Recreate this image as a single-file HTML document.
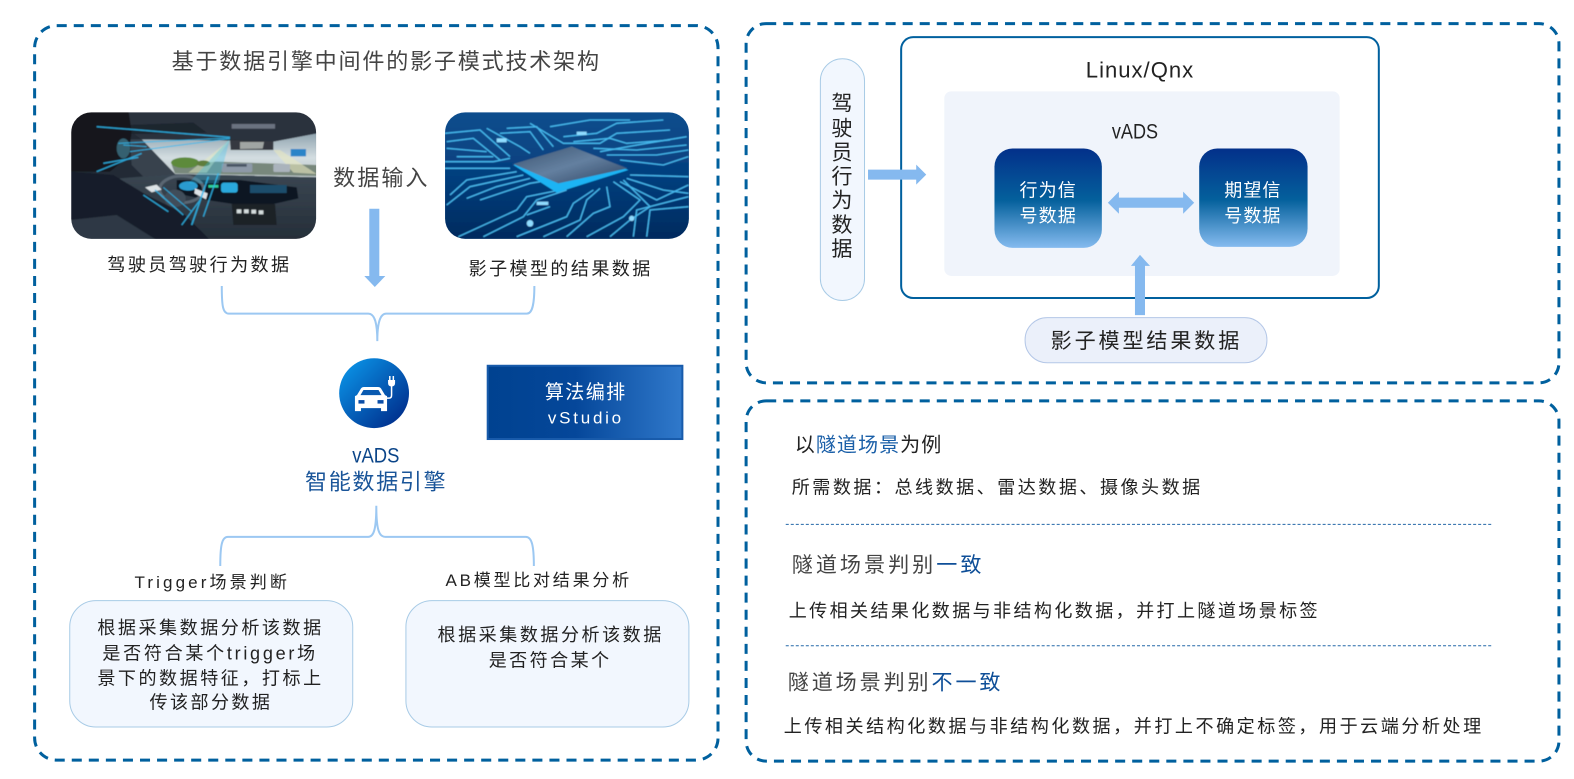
<!DOCTYPE html>
<html lang="zh"><head><meta charset="utf-8"><title>影子模式技术架构</title>
<style>
html,body{margin:0;padding:0;background:#fff;width:1574px;height:779px;overflow:hidden}
svg{display:block}
text{font-family:"Liberation Sans","Noto Sans CJK SC",sans-serif;fill:#222;font-weight:400}
</style></head><body>
<svg width="1574" height="779" viewBox="0 0 1568.5 776.3" preserveAspectRatio="none" xmlns="http://www.w3.org/2000/svg">
<defs>
<linearGradient id="bl" x1="0" y1="0" x2="0" y2="1"><stop offset="0" stop-color="#03308a"/><stop offset=".52" stop-color="#04609c"/><stop offset="1" stop-color="#85bbef"/></linearGradient>
<linearGradient id="vs" x1="0" y1="0" x2="1" y2="0"><stop offset="0" stop-color="#004290"/><stop offset=".45" stop-color="#05479a"/><stop offset="1" stop-color="#3079cb"/></linearGradient>
<linearGradient id="ci" x1="0" y1="0" x2="1" y2="1"><stop offset=".1" stop-color="#0a90e4"/><stop offset=".9" stop-color="#002e8c"/></linearGradient>
<linearGradient id="ws" x1="0" y1="0" x2="0" y2="1"><stop offset="0" stop-color="#8fa3ae"/><stop offset=".55" stop-color="#d3dde1"/><stop offset="1" stop-color="#bcc7c9"/></linearGradient>
<linearGradient id="pcb" x1="0" y1="0" x2="0" y2="1"><stop offset="0" stop-color="#0a4f8e"/><stop offset=".5" stop-color="#063f7e"/><stop offset="1" stop-color="#032a5e"/></linearGradient>
<linearGradient id="chip" x1="0" y1="0" x2="1" y2="1"><stop offset="0" stop-color="#3a5370"/><stop offset=".5" stop-color="#6480a0"/><stop offset="1" stop-color="#2c4260"/></linearGradient>
<linearGradient id="dash" x1="0" y1="0" x2="0" y2="1"><stop offset="0" stop-color="#3a4652"/><stop offset="1" stop-color="#252e38"/></linearGradient>
<clipPath id="c1"><rect x="71" y="112" width="244" height="126" rx="20"/></clipPath>
<clipPath id="c2"><rect x="443.500" y="112" width="243" height="126" rx="20"/></clipPath>
<filter id="bb" x="-5%" y="-5%" width="110%" height="110%"><feGaussianBlur stdDeviation="1.5"/></filter>
</defs>
<rect width="1574" height="779" fill="#fff"/>

<g fill="none" stroke="#00609e" stroke-width="3" stroke-dasharray="10 7">
<rect x="34.5" y="25.5" width="681" height="732" rx="22"/>
<rect x="743.5" y="23.5" width="810" height="358" rx="20"/>
<rect x="743.5" y="399.5" width="810" height="359" rx="20"/>
</g>

<text x="171" y="69" font-size="22" textLength="426" lengthAdjust="spacing" style="fill:#444">基于数据引擎中间件的影子模式技术架构</text>

<!-- car image -->
<g clip-path="url(#c1)"><g transform="translate(59.800 99.650) scale(.3322)" filter="url(#bb)">
<rect x="30" y="30" width="745" height="390" fill="#232b36"/>
<polygon points="245,118 510,122 640,125 770,100 770,232 345,222" fill="url(#ws)"/>
<polygon points="335,195 470,185 770,195 770,228 345,220" fill="#78887c"/>
<polygon points="510,120 385,218 440,218" fill="#e6ecc0" opacity=".5"/>
<polygon points="640,150 700,218 770,222 660,150" fill="#e8e8c0" opacity=".6"/>
<ellipse cx="375" cy="188" rx="42" ry="16" fill="#5d8a3a"/><ellipse cx="430" cy="190" rx="20" ry="9" fill="#5e7d3a"/>
<rect x="485" y="190" width="92" height="27" rx="5" fill="#8d99a7"/><rect x="500" y="192" width="60" height="8" fill="#4a5563"/>
<rect x="640" y="192" width="50" height="24" rx="4" fill="#aab3bc"/>
<rect x="692" y="147" width="46" height="22" fill="#2a84c8"/>
<polygon points="30,30 770,30 770,100 640,125 510,118 245,118 205,90" fill="#2a313c"/>
<polygon points="120,78 400,68 440,98 220,102" fill="#1e252e"/>
<polygon points="510,120 640,124 640,150 512,150" fill="#34383f"/>
<polygon points="540,126 612,126 608,146 540,147" fill="#a0a5a3"/>
<rect x="515" y="72" width="130" height="14" fill="#6b7280"/>
<polygon points="210,118 245,118 345,222 250,230 215,195" fill="#38424e"/>
<polygon points="180,235 345,222 770,232 770,420 180,420" fill="url(#dash)"/>
<polygon points="350,240 540,240 710,262 715,295 640,312 520,312 440,300 350,280" fill="#101824"/>
<rect x="483" y="248" width="50" height="30" rx="8" fill="#29a8dc"/>
<rect x="445" y="255" width="30" height="8" fill="#2fcf9a"/>
<rect x="570" y="255" width="110" height="24" fill="#1f4e6c"/>
<polygon points="515,312 645,312 650,375 520,375" fill="#1a2027"/>
<g fill="#d5dddd"><rect x="530" y="328" width="14" height="12"/><rect x="552" y="328" width="14" height="12"/><rect x="574" y="329" width="14" height="12"/><rect x="596" y="331" width="14" height="12"/></g>
<ellipse cx="365" cy="268" rx="66" ry="40" fill="none" stroke="#5a6672" stroke-width="9"/>
<ellipse cx="345" cy="295" rx="32" ry="26" fill="#414d5a"/>
<ellipse cx="385" cy="258" rx="28" ry="14" fill="#2a9bd0"/>
<polygon points="30,215 160,225 260,285 370,340 450,420 30,420" fill="#181f29"/>
<polygon points="30,30 205,30 215,95 205,170 150,215 30,215" fill="#14191f"/>
<ellipse cx="190" cy="145" rx="20" ry="30" fill="#36606f"/>
<polygon points="30,360 170,345 290,420 30,420" fill="#2f3944"/>
<path d="M255,262l35,-8l15,15l-30,8zM405,265l38,15l-5,18l-35,-18z" fill="#dde2e6"/>
<g stroke="#2fb8ee" fill="none" opacity=".85">
<path d="M110,80 L510,112" stroke-width="4"/><path d="M175,130 L510,114" stroke-width="3"/><path d="M210,155 L510,116" stroke-width="3"/>
<path d="M110,215 L245,160" stroke-width="4"/><path d="M130,190 L235,172" stroke-width="4"/><path d="M190,135 L260,140" stroke-width="3"/>
<path d="M250,285 L325,335" stroke-width="4"/><path d="M285,270 L370,345" stroke-width="4"/><path d="M310,262 L395,335" stroke-width="3"/>
<path d="M420,300 L365,375" stroke-width="4"/><path d="M445,230 L395,375" stroke-width="5"/><path d="M475,220 L430,350" stroke-width="4"/>
</g>
<polygon points="510,115 385,250 475,250" fill="#39c3ee" opacity=".32"/>
</g></g>

<!-- chip image -->
<g clip-path="url(#c2)"><g transform="translate(428.500 99.650) scale(.3322)" filter="url(#bb)">
<rect x="40" y="30" width="740" height="390" fill="url(#pcb)"/>
<g fill="none" stroke="#46b9ee" stroke-width="4">
<path d="M45,100 L150,90 L240,170"/><path d="M50,125 L130,115 L210,180"/><path d="M170,85 L270,140 L300,160"/><path d="M210,100 L300,95 L340,150"/><path d="M230,85 L320,80 L370,140"/>
<path d="M300,70 L400,130 L510,130 L560,100 L720,90"/><path d="M360,80 L480,60 L600,60"/><path d="M400,110 L500,100 L560,70 L700,60"/><path d="M430,125 L540,115 L590,130 L720,120"/>
<path d="M510,155 L650,130 L770,110"/><path d="M530,165 L680,165 L775,150"/><path d="M570,180 L700,195 L775,170"/><path d="M490,145 L620,150 L770,135"/>
<path d="M45,185 L190,185 L240,175"/><path d="M45,205 L240,205"/><path d="M80,170 L190,170"/><path d="M50,145 L110,150 L170,155"/>
<path d="M50,315 L120,260 L280,225"/><path d="M110,295 L200,260 L300,235"/><path d="M150,300 L300,250 L330,245"/><path d="M60,285 L110,240 L260,215"/>
<path d="M85,410 L260,330 L290,290 L390,270"/><path d="M160,410 L280,350 L320,300 L410,270"/><path d="M260,410 L410,350 L430,310 L490,270"/><path d="M340,410 L450,360 L470,300 L510,265"/><path d="M410,410 L490,340 L540,320 L530,260"/>
<path d="M470,410 L580,350 L630,300 L550,245"/><path d="M540,410 L600,360 L660,320 L580,240"/><path d="M610,410 L620,330 L775,290"/><path d="M650,410 L660,330 L775,320"/>
<path d="M590,235 L700,270 L775,280"/><path d="M570,245 L680,300 L775,255"/><path d="M600,225 L775,230"/><path d="M290,345 L360,320"/>
</g>
<g fill="#8fdcff"><circle cx="300" cy="370" r="10"/><circle cx="605" cy="355" r="8"/><rect x="200" y="115" width="30" height="12"/><rect x="320" y="305" width="35" height="10"/><rect x="440" y="95" width="30" height="10"/></g>
<polygon points="250,195 380,278 595,210 425,140" fill="#1db4f4"/>
<polygon points="250,192 425,140 592,205 385,250" fill="url(#chip)"/>
</g></g>

<text x="332" y="185" font-size="22" textLength="94" lengthAdjust="spacing" style="fill:#444">数据输入</text>
<polygon points="368,208 378,208 378,275 384,275 373.5,286 363,275 368,275" fill="#85b9ef"/>
<text x="107" y="270" font-size="18" textLength="181" lengthAdjust="spacing">驾驶员驾驶行为数据</text>
<text x="467" y="274" font-size="18" textLength="181" lengthAdjust="spacing">影子模型的结果数据</text>

<g fill="none" stroke="#9cc8f2" stroke-width="2">
<path d="M221,285 C221,305 222,312.500 228,312.500 L367,312.500 C372,312.500 376,318 376,340 C376,318 380,312.500 385,312.500 L525,312.500 C530,312.500 532.500,305 532.500,285"/>
<path d="M219.500,564 C219.500,544 221,535 227,535 L367,535 C372,535 375,529 375,504 C375,529 378,535 384,535 L524,535 C530,535 532,544 532,564"/>
</g>

<circle cx="372.800" cy="391.800" r="34.800" fill="url(#ci)"/>
<g transform="translate(-1.300 -1.300)">
<path d="M355,396 L357,395 L361,388.500 Q362,387 364,387 L378,387 Q380,387 381,388.500 L385,395 L387,396 L387,407 L387,411 L381,411 L381,408 L361,408 L361,411 L355,411 Z" fill="#fff"/>
<polygon points="360.500,395 363.500,390 378.500,390 381.500,395" fill="#0a5ab0"/>
<rect x="358.500" y="400" width="6" height="3.500" fill="#0a4ea8"/><rect x="377.500" y="400" width="6" height="3.500" fill="#0a4ea8"/>
<path d="M386,398 L389,398 Q391.500,398 391.500,395 L391.500,386" fill="none" stroke="#fff" stroke-width="1.500"/>
<path d="M388,380 L395,380 L395,383 Q395,386.500 391.500,386.500 Q388,386.500 388,383 Z" fill="#fff"/>
<rect x="389" y="376" width="1.500" height="4" fill="#fff"/><rect x="392.500" y="376" width="1.500" height="4" fill="#fff"/>
</g>

<text x="351" y="461" font-size="21" textLength="47" lengthAdjust="spacingAndGlyphs" style="fill:#0a4488">vADS</text>
<text x="304" y="488" font-size="22" textLength="140" lengthAdjust="spacing" style="fill:#1a5599">智能数据引擎</text>

<rect x="486" y="364.500" width="194" height="73" fill="url(#vs)" stroke="#185bab" stroke-width="2"/>
<text x="543" y="397" font-size="19" textLength="80" lengthAdjust="spacing" style="fill:#fff">算法编排</text>
<text x="546" y="422" font-size="17" textLength="73" lengthAdjust="spacing" style="fill:#fff">vStudio</text>

<text x="134" y="586" font-size="17" textLength="152" lengthAdjust="spacing">Trigger场景判断</text>
<text x="444" y="584" font-size="17" textLength="183" lengthAdjust="spacing">AB模型比对结果分析</text>

<rect x="69.500" y="598.500" width="282" height="126" rx="26" fill="#f2f7fe" stroke="#a8cbe6"/>
<rect x="404.500" y="598.500" width="282" height="126" rx="26" fill="#f2f7fe" stroke="#a8cbe6"/>
<g font-size="18">
<text x="97" y="632" textLength="223" lengthAdjust="spacing">根据采集数据分析该数据</text>
<text x="102" y="657" textLength="212" lengthAdjust="spacing">是否符合某个trigger场</text>
<text x="97" y="682" textLength="223" lengthAdjust="spacing">景下的数据特征，打标上</text>
<text x="149" y="706" textLength="120" lengthAdjust="spacing">传该部分数据</text>
<text x="436" y="639" textLength="223" lengthAdjust="spacing">根据采集数据分析该数据</text>
<text x="487" y="664" textLength="120" lengthAdjust="spacing">是否符合某个</text>
</g>

<!-- right top -->
<rect x="817.500" y="58.500" width="44" height="241" rx="22" fill="#f2f7fe" stroke="#a8cbe6"/>
<g font-size="21" text-anchor="middle">
<text x="839" y="110">驾</text><text x="839" y="135">驶</text><text x="839" y="159">员</text><text x="839" y="183">行</text><text x="839" y="207">为</text><text x="839" y="231">数</text><text x="839" y="255">据</text>
</g>
<rect x="898" y="37" width="476" height="260" rx="12" fill="#fff" stroke="#00609e" stroke-width="2"/>
<rect x="941" y="91" width="394" height="184" rx="7" fill="#f0f4fb"/>
<text x="1082" y="77" font-size="22" textLength="107" lengthAdjust="spacing">Linux/Qnx</text>
<text x="1108" y="138" font-size="21" textLength="46" lengthAdjust="spacingAndGlyphs">vADS</text>
<rect x="991" y="148" width="107" height="99" rx="18" fill="url(#bl)"/>
<rect x="1195" y="148" width="108" height="98" rx="18" fill="url(#bl)"/>
<g font-size="18">
<text x="1016" y="196" textLength="56" lengthAdjust="spacing" style="fill:#fff">行为信</text>
<text x="1016" y="221" textLength="56" lengthAdjust="spacing" style="fill:#fff">号数据</text>
<text x="1220" y="196" textLength="56" lengthAdjust="spacing" style="fill:#fff">期望信</text>
<text x="1220" y="221" textLength="56" lengthAdjust="spacing" style="fill:#fff">号数据</text>
</g>
<polygon points="865,169 913,169 913,164 923,174 913,184 913,179 865,179" fill="#85b9ef"/>
<polygon points="1104,202 1115,191 1115,197 1179,197 1179,191 1190,202 1179,213 1179,207 1115,207 1115,213" fill="#85b9ef"/>
<polygon points="1131,314 1131,265 1127,265 1136,254 1146,265 1141,265 1141,314" fill="#85b9ef"/>
<rect x="1021.500" y="316.500" width="241" height="45" rx="22" fill="#ebf0fa" stroke="#b4c7e7"/>
<text x="1047" y="347" font-size="21" textLength="188" lengthAdjust="spacing">影子模型结果数据</text>

<!-- right bottom -->
<text x="792" y="450" font-size="20" textLength="146" lengthAdjust="spacing">以<tspan style="fill:#1a5fa8">隧道场景</tspan>为例</text>
<text x="789" y="492" font-size="18" textLength="407" lengthAdjust="spacing">所需数据：总线数据、雷达数据、摄像头数据</text>
<path d="M783,522.500H1486M783,643.500H1486" stroke="#2468a8" stroke-dasharray="3 2" fill="none"/>
<text x="789" y="570" font-size="21" textLength="189" lengthAdjust="spacing" style="fill:#444">隧道场景判别<tspan style="fill:#0f4f98">一致</tspan></text>
<text x="786" y="615" font-size="18" textLength="527" lengthAdjust="spacing">上传相关结果化数据与非结构化数据，并打上隧道场景标签</text>
<text x="785" y="687" font-size="21" textLength="212" lengthAdjust="spacing" style="fill:#444">隧道场景判别<tspan style="fill:#0f4f98">不一致</tspan></text>
<text x="781" y="730" font-size="18" textLength="695" lengthAdjust="spacing">上传相关结构化数据与非结构化数据，并打上不确定标签，用于云端分析处理</text>
</svg>
</body></html>
